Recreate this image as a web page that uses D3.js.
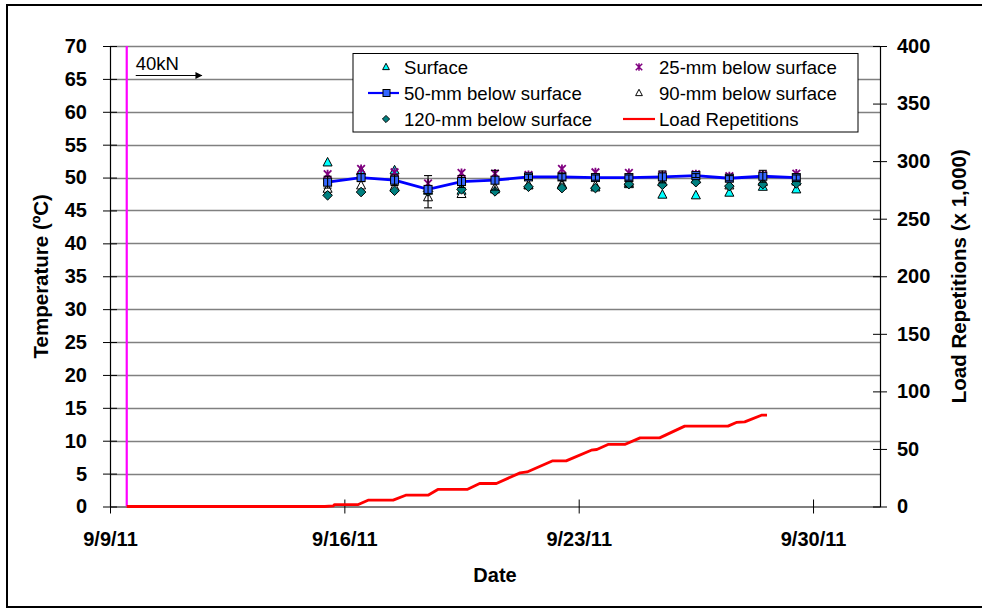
<!DOCTYPE html>
<html><head><meta charset="utf-8">
<script src="https://cdn.jsdelivr.net/npm/d3@7"></script>
<style>
html,body{margin:0;padding:0;background:#fff;}
svg{display:block;font-family:"Liberation Sans",Arial,sans-serif;}
</style></head>
<body>
<svg id="chart" width="982" height="609"></svg>
<script>
// ---------- DATA ----------
const tempDates = ["2011-09-15T12:00","2011-09-16T12:00","2011-09-17T12:00","2011-09-18T12:00","2011-09-19T12:00",
  "2011-09-20T12:00","2011-09-21T12:00","2011-09-22T12:00","2011-09-23T12:00","2011-09-24T12:00",
  "2011-09-25T12:00","2011-09-26T12:00","2011-09-27T12:00","2011-09-28T12:00","2011-09-29T12:00"];
const surface   = [52.3, 51.0, 51.1, 48.0, 48.0, 48.2, 48.8, 49.0, 48.5, 49.0, 47.4, 47.3, 47.7, 48.6, 48.2];
const mm25      = [50.5, 51.3, 50.8, 49.1, 50.7, 50.6, 50.4, 51.3, 50.8, 50.7, 50.4, 50.5, 50.2, 50.4, 50.6];
const mm50      = [49.3, 50.0, 49.6, 48.2, 49.4, 49.6, 50.1, 50.1, 50.0, 50.0, 50.1, 50.3, 49.9, 50.2, 50.0];
const mm50ErrUp = [0.9, 0.6, 0.8, 2.1, 0.9, 1.5, 0.4, 0.5, 0.4, 0.4, 0.9, 0.3, 0.4, 0.9, 0.4];
const mm50ErrDn = [0.9, 0.6, 0.8, 2.8, 0.9, 1.5, 0.4, 0.5, 0.4, 0.4, 0.9, 0.3, 0.4, 0.9, 0.4];
const mm90      = [48.3, 48.8, 48.6, 47.0, 47.5, 48.5, 48.9, 48.8, 48.8, 49.2, 49.3, 49.7, 48.8, 49.3, 49.4];
const mm120     = [47.3, 47.8, 48.0, 47.9, 48.2, 47.9, 48.6, 48.4, 48.4, 49.0, 48.9, 49.3, 48.7, 49.0, 49.1];

const loadDates = ["2011-09-09T12:00","2011-09-15T10:00","2011-09-15T16:00","2011-09-15T17:00","2011-09-16T10:00",
  "2011-09-16T17:00","2011-09-17T11:00","2011-09-17T20:00","2011-09-18T12:00","2011-09-18T19:00",
  "2011-09-19T16:00","2011-09-20T01:00","2011-09-20T13:00","2011-09-21T06:00","2011-09-21T11:00",
  "2011-09-22T05:00","2011-09-22T15:00","2011-09-23T09:00","2011-09-23T13:00","2011-09-23T21:00",
  "2011-09-24T09:00","2011-09-24T20:00","2011-09-25T10:00","2011-09-26T04:00","2011-09-27T11:00",
  "2011-09-27T17:00","2011-09-27T23:00","2011-09-28T11:00","2011-09-28T15:00"];
const loadReps  = [0, 0, 0.5, 1.7, 1.7, 5.5, 5.5, 9.8, 9.8, 14.8, 14.8, 20.0, 20.0, 29.2, 30.0,
  39.6, 39.6, 48.9, 49.5, 53.9, 53.9, 59.6, 59.6, 69.8, 69.8, 73.0, 73.5, 79.3, 79.3];

const xDomain = ["2011-09-09T00:00","2011-10-02T00:00"];
const xTicks  = ["2011-09-09T00:00","2011-09-16T00:00","2011-09-23T00:00","2011-09-30T00:00"];
const leftTicks  = [0,5,10,15,20,25,30,35,40,45,50,55,60,65,70];
const rightTicks = [0,50,100,150,200,250,300,350,400];
const loadStart = "2011-09-09T12:00";
const legendLabels = ["Surface","25-mm below surface","50-mm below surface","90-mm below surface","120-mm below surface","Load Repetitions"];

// ---------- SETUP ----------
const parse = d3.timeParse("%Y-%m-%dT%H:%M");
const svg = d3.select("#chart");
const L = 110, R = 880, T = 46, B = 506.5;
const x = d3.scaleTime().domain(xDomain.map(parse)).range([L, R]);
const yL = d3.scaleLinear().domain([0,70]).range([B, T]);
const yR = d3.scaleLinear().domain([0,400]).range([B, T]);
const fmt = d3.timeFormat("%-m/%-d/%y");

// outer border
svg.append("rect").attr("x",7).attr("y",5).attr("width",990).attr("height",602)
  .attr("fill","none").attr("stroke","#000").attr("stroke-width",2);

// gridlines
svg.append("g").selectAll("line").data(leftTicks.filter(d=>d>0)).join("line")
  .attr("x1",L).attr("x2",R).attr("y1",d=>Math.round(yL(d))+0.5).attr("y2",d=>Math.round(yL(d))+0.5)
  .attr("stroke","#808080").attr("stroke-width",1.3);

// axes
const axL = d3.axisLeft(yL).tickValues(leftTicks).tickSizeInner(7).tickSizeOuter(0).tickPadding(16);
const gL = svg.append("g").attr("transform",`translate(${L},0)`).call(axL);
gL.selectAll(".tick line").attr("x2",-7).attr("x1",7);
const axR = d3.axisRight(yR).tickValues(rightTicks).tickSizeInner(7).tickSizeOuter(0).tickPadding(10);
const gR = svg.append("g").attr("transform",`translate(${R},0)`).call(axR);
gR.selectAll(".tick line").attr("x1",-7).attr("x2",7);
const axB = d3.axisBottom(x).tickValues(xTicks.map(parse)).tickFormat(fmt).tickSizeInner(7).tickSizeOuter(0).tickPadding(18);
const gB = svg.append("g").attr("transform",`translate(0,${B})`).call(axB);
gB.selectAll(".tick line").attr("y1",-7).attr("y2",7);
[gL,gR,gB].forEach(g=>{
  g.selectAll("text").attr("font-family",'"Liberation Sans",Arial,sans-serif').attr("font-size",20)
    .attr("font-weight","bold").attr("fill","#000");
  g.selectAll("line").attr("stroke","#000");
  g.select(".domain").attr("stroke","#000").attr("stroke-width",1.2);
});

// axis titles
svg.append("text").attr("transform",`translate(48,${(T+B)/2}) rotate(-90)`).attr("text-anchor","middle")
  .attr("font-size",20.5).attr("font-weight","bold").text("Temperature (ºC)");
svg.append("text").attr("transform",`translate(966,${(T+B)/2}) rotate(-90)`).attr("text-anchor","middle")
  .attr("font-size",20.5).attr("font-weight","bold").text("Load Repetitions (x 1,000)");
svg.append("text").attr("x",(L+R)/2).attr("y",582).attr("text-anchor","middle")
  .attr("font-size",20).attr("font-weight","bold").text("Date");

// magenta load start line
svg.append("line").attr("x1",x(parse(loadStart))).attr("x2",x(parse(loadStart)))
  .attr("y1",T).attr("y2",B).attr("stroke","#FF00FF").attr("stroke-width",2.2);
// 40kN label + arrow
svg.append("defs").append("marker").attr("id","arr").attr("viewBox","0 0 10 10").attr("refX",9).attr("refY",5)
  .attr("markerWidth",9).attr("markerHeight",7).attr("markerUnits","userSpaceOnUse").attr("orient","auto")
  .append("path").attr("d","M0,0L10,5L0,10Z").attr("fill","#000");
svg.append("text").attr("x",x(parse(loadStart))+9).attr("y",70).attr("font-size",18.5).text("40kN");
svg.append("line").attr("x1",x(parse(loadStart))+9).attr("x2",x(parse(loadStart))+75).attr("y1",75.5).attr("y2",75.5)
  .attr("stroke","#000").attr("stroke-width",1.2).attr("marker-end","url(#arr)");

// load line
const loadData = loadDates.map((d,i)=>({d:parse(d),v:loadReps[i]}));
svg.append("path").datum(loadData).attr("fill","none").attr("stroke","#FF0000").attr("stroke-width",2.8)
  .attr("stroke-linejoin","round")
  .attr("d",d3.line().x(d=>x(d.d)).y(d=>yR(d.v)));

// markers
const tri = "M0,-5L4.5,3.5L-4.5,3.5Z";
const dia = "M0,-4.8L4.8,0L0,4.8L-4.8,0Z";
const star = "M-3.8,-3.8L3.8,3.8M-3.8,3.8L3.8,-3.8M0,-4.5L0,4.5";
const td = tempDates.map(parse);
function pts(vals, path, fill, stroke, sw){
  svg.append("g").selectAll("path").data(vals).join("path")
    .attr("transform",(v,i)=>`translate(${x(td[i])},${yL(v)})`)
    .attr("d",path).attr("fill",fill).attr("stroke",stroke).attr("stroke-width",sw);
}
pts(surface, tri, "#00FFFF", "#000", 1);
pts(mm25, star, "none", "#800080", 1.8);
// 50 mm line
svg.append("path").datum(mm50).attr("fill","none").attr("stroke","#0000FF").attr("stroke-width",2.8)
  .attr("d",d3.line().x((v,i)=>x(td[i])).y(v=>yL(v)));
pts(mm90, tri, "#fff", "#000", 1);
pts(mm120, dia, "#008080", "#000", 1);
svg.append("g").selectAll("rect").data(mm50).join("rect")
  .attr("x",(v,i)=>x(td[i])-4).attr("y",v=>yL(v)-4).attr("width",8).attr("height",8)
  .attr("fill","#3366FF").attr("stroke","#000").attr("stroke-width",1);
// error bars
const eb = svg.append("g").attr("stroke","#000").attr("stroke-width",1.1);
mm50.forEach((v,i)=>{
  const cx = x(td[i]), y1 = yL(v+mm50ErrUp[i]), y2 = yL(v-mm50ErrDn[i]);
  eb.append("line").attr("x1",cx).attr("x2",cx).attr("y1",y1).attr("y2",y2);
  eb.append("line").attr("x1",cx-4).attr("x2",cx+4).attr("y1",y1).attr("y2",y1);
  eb.append("line").attr("x1",cx-4).attr("x2",cx+4).attr("y1",y2).attr("y2",y2);
});

// legend
const lg = svg.append("g");
lg.append("rect").attr("x",353).attr("y",53.5).attr("width",505).attr("height",78.5)
  .attr("fill","#fff").attr("stroke","#000").attr("stroke-width",1);
const rows = [67,93,119];
const items = [
  {c:0,r:0,t:legendLabels[0],m:"tri",f:"#00FFFF"},
  {c:1,r:0,t:legendLabels[1],m:"star"},
  {c:0,r:1,t:legendLabels[2],m:"sq"},
  {c:1,r:1,t:legendLabels[3],m:"tri",f:"#fff"},
  {c:0,r:2,t:legendLabels[4],m:"dia"},
  {c:1,r:2,t:legendLabels[5],m:"line"}];
const colMx = [386, 639], colTx = [404, 659];
items.forEach(it=>{
  const cy = rows[it.r], mx = colMx[it.c];
  if(it.m==="tri") lg.append("path").attr("transform",`translate(${mx},${cy})scale(0.75)`).attr("d",tri).attr("fill",it.f).attr("stroke","#000").attr("stroke-width",1.3);
  if(it.m==="star") lg.append("path").attr("transform",`translate(${mx},${cy})scale(0.85)`).attr("d",star).attr("fill","none").attr("stroke","#800080").attr("stroke-width",1.8);
  if(it.m==="dia") lg.append("path").attr("transform",`translate(${mx},${cy})scale(0.75)`).attr("d",dia).attr("fill","#008080").attr("stroke","#000").attr("stroke-width",1.3);
  if(it.m==="sq"){
    lg.append("line").attr("x1",368).attr("x2",399).attr("y1",cy).attr("y2",cy).attr("stroke","#0000FF").attr("stroke-width",2.2);
    lg.append("rect").attr("x",mx+0.5-3.5).attr("y",cy-3.5).attr("width",7).attr("height",7).attr("fill","#3366FF").attr("stroke","#000");
  }
  if(it.m==="line") lg.append("line").attr("x1",623).attr("x2",655).attr("y1",cy).attr("y2",cy).attr("stroke","#FF0000").attr("stroke-width",2.2);
  lg.append("text").attr("x",colTx[it.c]).attr("y",cy+6.5).attr("font-size",18.6).text(it.t);
});
</script>
</body></html>
